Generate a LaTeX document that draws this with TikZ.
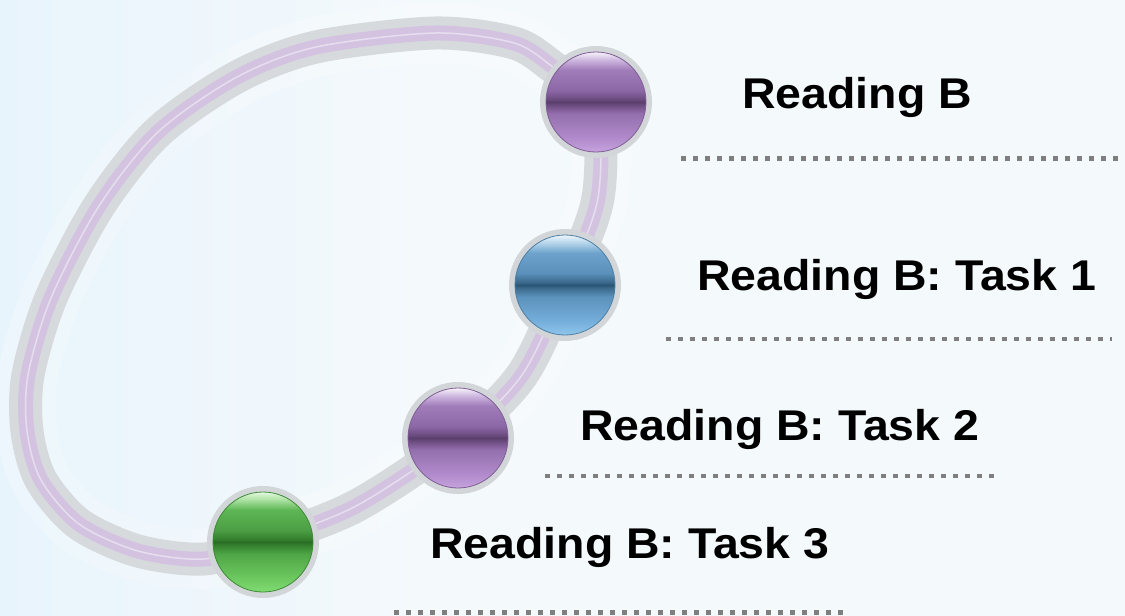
\documentclass[tikz,border=0pt]{standalone}
\usepackage{fontspec}
\newfontfamily\labelfont[FakeStretch=1.08]{Liberation Sans}
\definecolor{bgleft}{HTML}{E8F4FC}
\definecolor{bgmain}{HTML}{F4F9FC}
\definecolor{bandgray}{HTML}{D7DADC}
\definecolor{bandlilac}{HTML}{D3C3E1}
\definecolor{rimgray}{HTML}{D3D6D8}
\definecolor{dotgray}{HTML}{7F7F7F}
% purple ball tones
\definecolor{puA}{HTML}{C6A3DE}\definecolor{puB}{HTML}{B08ACA}
\definecolor{puC}{HTML}{9570AE}\definecolor{puD}{HTML}{6C4C80}
\definecolor{puE}{HTML}{5A3E6C}\definecolor{puF}{HTML}{8D68A7}
\definecolor{puG}{HTML}{A07CB9}\definecolor{puH}{HTML}{CDB6DF}
\definecolor{puI}{HTML}{F7F2FA}\definecolor{puEdge}{HTML}{7E5E94}
% blue ball tones
\definecolor{blA}{HTML}{8FC6EC}\definecolor{blB}{HTML}{74AEDA}
\definecolor{blC}{HTML}{5C93BD}\definecolor{blD}{HTML}{3B6A8C}
\definecolor{blE}{HTML}{2A5676}\definecolor{blF}{HTML}{5A90BA}
\definecolor{blG}{HTML}{6CA2CB}\definecolor{blH}{HTML}{B3D4EA}
\definecolor{blI}{HTML}{EEF6FB}\definecolor{blEdge}{HTML}{4F7FA3}
% green ball tones
\definecolor{grA}{HTML}{80DC72}\definecolor{grB}{HTML}{6CC85F}
\definecolor{grC}{HTML}{4FA646}\definecolor{grD}{HTML}{347F2E}
\definecolor{grE}{HTML}{2A6E25}\definecolor{grF}{HTML}{4C9F44}
\definecolor{grG}{HTML}{5DB654}\definecolor{grH}{HTML}{A8E09F}
\definecolor{grI}{HTML}{E4F8E0}\definecolor{grEdge}{HTML}{3F8A38}
\pgfdeclareverticalshading{ballpurple}{100bp}{
  color(0bp)=(puA); color(25bp)=(puA); color(32bp)=(puB); color(44bp)=(puC);
  color(48.5bp)=(puD); color(50bp)=(puE); color(51.5bp)=(puD); color(56bp)=(puF);
  color(66bp)=(puG); color(71bp)=(puH); color(75bp)=(puI); color(100bp)=(puI)}
\pgfdeclareverticalshading{ballblue}{100bp}{
  color(0bp)=(blA); color(25bp)=(blA); color(32bp)=(blB); color(44bp)=(blC);
  color(48.5bp)=(blD); color(50bp)=(blE); color(51.5bp)=(blD); color(56bp)=(blF);
  color(66bp)=(blG); color(71bp)=(blH); color(75bp)=(blI); color(100bp)=(blI)}
\pgfdeclareverticalshading{ballgreen}{100bp}{
  color(0bp)=(grA); color(25bp)=(grA); color(32bp)=(grB); color(44bp)=(grC);
  color(48.5bp)=(grD); color(50bp)=(grE); color(51.5bp)=(grD); color(56bp)=(grF);
  color(66bp)=(grG); color(71bp)=(grH); color(75bp)=(grI); color(100bp)=(grI)}
\tikzset{
  ball/.style={circle, minimum size=100pt, inner sep=0pt,
    preaction={draw=rimgray, line width=12pt}},
  purpleball/.style={ball, shading=ballpurple, draw=puEdge, line width=0.8pt},
  blueball/.style={ball, shading=ballblue, draw=blEdge, line width=0.8pt},
  greenball/.style={ball, shading=ballgreen, draw=grEdge, line width=0.8pt},
  label/.style={anchor=base west, inner sep=0pt,
    font=\labelfont\bfseries\fontsize{43}{50}\selectfont, text=black},
  rule/.style={draw=dotgray, line width=4.7pt, dash pattern=on 4.7pt off 7.3pt}
}
\begin{document}
\begin{tikzpicture}[x=1pt, y=-1pt]
\useasboundingbox (0,0) rectangle (1125,616);
% background
\fill[bgmain] (0,0) rectangle (1125,616);
\shade[left color=bgleft, right color=bgmain] (0,0) rectangle (420,616);

% stations on the loop
\coordinate (c1) at (596,102);
\coordinate (c2) at (565,285);
\coordinate (c3) at (458,438);
\coordinate (c4) at (263,542);

% the loop: soft glow, gray band, lilac stripe, highlight
\def\looppath{plot[smooth cycle, tension=0.5] coordinates {
  (c1) (598,198) (c2) (522,375) (c3) (356,506) (c4)
  (204,559) (138,551) (79,524) (41,480) (27,431) (28,375)
  (51,298) (99,206) (158,132) (237,77) (316,47) (435,33)
  (514,43) (553,67)}}
\draw[white, opacity=0.22, line width=60pt] \looppath;
\draw[bandgray, line width=33pt] \looppath;
\draw[bandlilac, line width=15pt] \looppath;
\draw[white, opacity=0.45, line width=1.5pt] \looppath;

% glass balls
\node[purpleball] (b1) at (c1) {};
\node[blueball]   (b2) at (c2) {};
\node[purpleball] (b3) at (c3) {};
\node[greenball]  (b4) at (c4) {};

% labels
\node[label] (t1) at (742,108) {Reading B};
\node[label] (t2) at (697,290) {Reading B: Task 1};
\node[label] (t3) at (580,440) {Reading B: Task 2};
\node[label] (t4) at (430,558) {Reading B: Task 3};

% dotted rules under the labels
\coordinate (r1a) at (681,158.5); \coordinate (r1b) at (1125,158.5);
\coordinate (r2a) at (666,339);   \coordinate (r2b) at (1112,339);
\coordinate (r3a) at (545,476);   \coordinate (r3b) at (994,476);
\coordinate (r4a) at (394,612.5); \coordinate (r4b) at (843,612.5);
\draw[rule] (r1a) -- (r1b);
\draw[rule] (r2a) -- (r2b);
\draw[rule] (r3a) -- (r3b);
\draw[rule] (r4a) -- (r4b);
\end{tikzpicture}
\end{document}
